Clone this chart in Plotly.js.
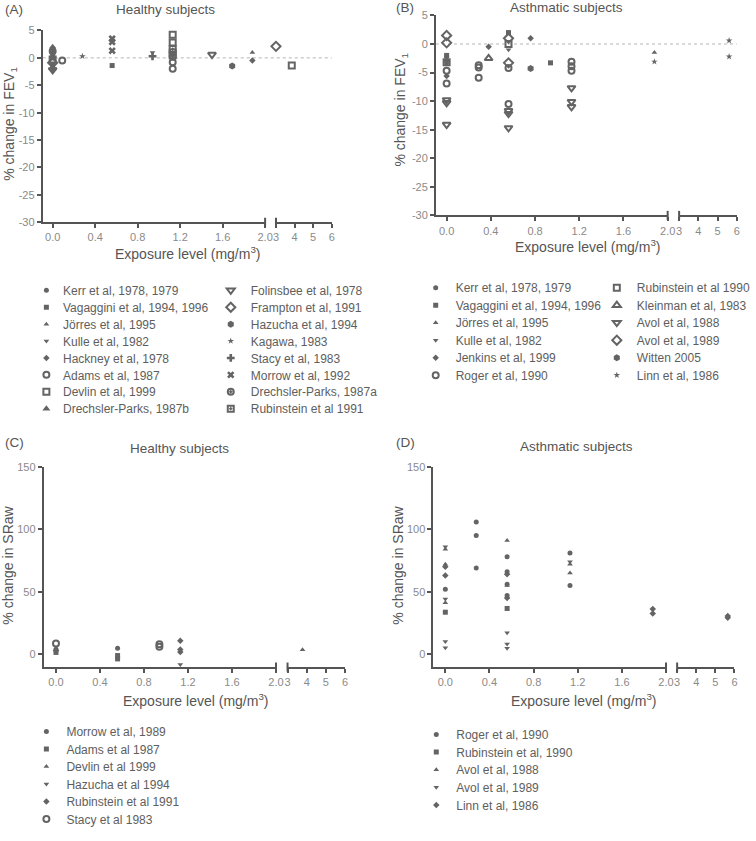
<!DOCTYPE html>
<html><head><meta charset="utf-8">
<script src="https://cdn.plot.ly/plotly-3.0.1.min.js"></script>
<style>html,body{margin:0;padding:0;background:#fff}#chart{width:756px;height:841px}</style>
</head><body><div id="chart"></div>
<script>
// ---------------- DATA ----------------
// Panel A: healthy subjects, % change in FEV1
const A_names = ["Kerr et al, 1978, 1979", "Vagaggini et al, 1994, 1996", "Jörres et al, 1995", "Kulle et al, 1982",
  "Hackney et al, 1978", "Adams et al, 1987", "Devlin et al, 1999", "Drechsler-Parks, 1987b",
  "Folinsbee et al, 1978", "Frampton et al, 1991", "Hazucha et al, 1994", "Kagawa, 1983",
  "Stacy et al, 1983", "Morrow et al, 1992", "Drechsler-Parks, 1987a", "Rubinstein et al 1991"];
const A_x = [[0, 0], [0, 0, 0.56], [0, 1.88], [0, 0.94], [0, 1.88], [0.09, 1.13, 1.13], [0, 1.13, 1.13, 3.85], [0],
  [0, 1.5], [0, 3.0], [0, 1.69], [0.28], [0, 0.94], [0.56, 0.56, 0.56], [0, 1.13], [1.13, 1.13, 1.13]];
const A_y = [[1.5, 0.6], [0.0, -1.2, -1.4], [2.1, 1.0], [-2.6, 1.0], [0.9, -0.5], [-0.5, -0.8, -2.0], [-0.3, 4.2, 2.8, -1.4], [-1.8],
  [-2.2, 0.6], [-0.9, 2.1], [1.6, -1.5], [0.3], [-2.0, 0.3], [3.5, 2.9, 1.3], [1.2, 0.2], [1.6, 1.0, 0.5]];

// Panel B: asthmatic subjects, % change in FEV1
const B_names = ["Kerr et al, 1978, 1979", "Vagaggini et al, 1994, 1996", "Jörres et al, 1995", "Kulle et al, 1982",
  "Jenkins et al, 1999", "Roger et al, 1990", "Rubinstein et al 1990", "Kleinman et al, 1983",
  "Avol et al, 1988", "Avol et al, 1989", "Witten 2005", "Linn et al, 1986"];
const B_x = [[0, 0], [0, 0.56, 0.94], [0, 1.88], [0, 0.56], [0, 0.38, 0.76],
  [0, 0, 0.29, 0.29, 0.29, 0.56, 0.56, 1.13, 1.13, 1.13], [0, 0.56], [0.38],
  [0, 0, 0, 0.56, 0.56, 0.56, 1.13, 1.13, 1.13], [0, 0, 0.56, 0.56], [0.76], [1.88, 5.6, 5.6]];
const B_y = [[-2.2, -3.0], [-2.0, 2.0, -3.3], [-2.8, -1.5], [-3.5, -1.0], [-5.6, -0.5, 1.0],
  [-4.7, -6.9, -3.7, -4.1, -5.9, -4.2, -10.5, -3.1, -3.9, -4.7], [-3.2, 0.0], [-2.5],
  [-9.8, -10.3, -14.1, -11.7, -12.2, -14.7, -7.7, -10.1, -11.0], [1.5, 0.2, 1.0, -3.3], [-4.3], [-3.1, 0.6, -2.2]];

// Panel C: healthy subjects, % change in SRaw
const C_names = ["Morrow et al, 1989", "Adams et al 1987", "Devlin et al 1999", "Hazucha et al 1994",
  "Rubinstein et al 1991", "Stacy et al 1983"];
const C_x = [[0, 0.56], [0, 0.56, 0.56], [3.78], [1.13], [0, 1.13, 1.13, 1.13], [0, 0.94, 0.94]];
const C_y = [[3.8, 4.5], [1.2, -1.3, -4.0], [3.4], [-8.5], [2.5, 10.5, 3.5, 1.5], [8.4, 7.8, 5.8]];

// Panel D: asthmatic subjects, % change in SRaw
const D_names = ["Roger et al, 1990", "Rubinstein et al, 1990", "Avol et al, 1988", "Avol et al, 1989", "Linn et al, 1986"];
const D_x = [[0, 0.28, 0.28, 0.28, 0.56, 0.56, 0.56, 0.56, 1.13, 1.13], [0, 0.56],
  [0, 0, 0, 0.56, 0.56, 1.13, 1.13], [0, 0, 0, 0, 0.56, 0.56, 0.56, 1.13],
  [0, 0, 0.56, 0.56, 1.88, 1.88, 5.65, 5.65]];
const D_y = [[52, 106, 95, 69, 78, 66, 56, 47, 81, 55], [33.5, 36.5],
  [84, 72, 41, 91, 55, 72, 65], [86, 44, 10, 5, 17, 8, 4.5, 74],
  [70, 63, 64, 45, 36, 32.5, 30.5, 29]];

// Tick labels
const X1_vals = [0, 0.4, 0.8, 1.2, 1.6, 2.0];
const X1_text = ["0.0", "0.4", "0.8", "1.2", "1.6", "2.0"];
const X2_vals = [3, 4, 5, 6];
const X2_text = ["3", "4", "5", "6"];
const YF_vals = [-30, -25, -20, -15, -10, -5, 0, 5];
const YF_text = ["-30", "-25", "-20", "-15", "-10", "-5", "0", "5"];
const YS_vals = [0, 50, 100, 150];
const YS_text = ["0", "50", "100", "150"];

// ---------------- STYLES ----------------
const GREY = '#646464';
const F = '"Liberation Sans", Arial, Helvetica, sans-serif';
function mk(symbol, size, lw) { return {symbol: symbol, size: size, color: GREY, line: {width: lw || 0, color: GREY}}; }
const A_sty = [mk('circle', 5), mk('square', 5), mk('triangle-up', 5), mk('triangle-down', 5), mk('diamond', 5),
  mk('circle-open', 6, 2), mk('square-open', 6, 2), mk('triangle-up', 7),
  mk('triangle-down-open', 7, 2), mk('diamond-open', 7, 2), mk('hexagon', 7), mk('star', 5),
  mk('cross', 6.5), mk('x', 6.5), mk('circle-open-dot', 6, 2), mk('square-open-dot', 6, 2)];
const B_sty = [mk('circle', 5), mk('square', 5), mk('triangle-up', 5), mk('triangle-down', 5), mk('diamond', 5),
  mk('circle-open', 6, 2), mk('square-open', 6, 2), mk('triangle-up-open', 7, 2),
  mk('triangle-down-open', 7, 2), mk('diamond-open', 7, 2), mk('hexagon', 7), mk('star', 5)];
const C_sty = [mk('circle', 5), mk('square', 5), mk('triangle-up', 5), mk('triangle-down', 5), mk('diamond', 5), mk('circle-open', 6, 2)];
const D_sty = [mk('circle', 5), mk('square', 5), mk('triangle-up', 5), mk('triangle-down', 5), mk('diamond', 5)];

// ---------------- LAYOUT GEOMETRY (pixels) ----------------
const W = 756, H = 841;
const px = v => v / W, py = v => 1 - v / H;
const geo = {
  A: {x1: [43.3, 268.3], x2: [279.3, 335.7], y: [31, 226], r1: [-0.093, 2.0]},
  B: {x1: [441.3, 675.7], x2: [687.3, 745.7], y: [15.7, 219], r1: [-0.0957, 2.0]},
  C: {x1: [44.3, 279.3], x2: [291, 349.3], y: [475, 678.3], r1: [-0.111, 2.0]},
  D: {x1: [438.7, 674], x2: [685.3, 743.3], y: [475, 678.3], r1: [-0.1075, 2.0]}
};

const traces = [];
function addPanel(names, xs, ys, sty, ax1, ax2, yax, legA, legB, split) {
  names.forEach(function (name, i) {
    const lo = {x: [], y: []}, hi = {x: [], y: []};
    xs[i].forEach(function (xv, j) { const t = xv <= 2 ? lo : hi; t.x.push(xv); t.y.push(ys[i][j]); });
    const leg = i < split ? legA : legB;
    const loHas = lo.x.length > 0;
    traces.push({type: 'scatter', mode: 'markers', name: name, x: lo.x, y: lo.y, xaxis: ax1, yaxis: yax,
      marker: sty[i], legend: leg, showlegend: loHas, cliponaxis: false, hoverinfo: 'skip'});
    traces.push({type: 'scatter', mode: 'markers', name: name, x: hi.x, y: hi.y, xaxis: ax2, yaxis: yax,
      marker: sty[i], legend: leg, showlegend: !loHas, cliponaxis: false, hoverinfo: 'skip'});
  });
}
addPanel(A_names, A_x, A_y, A_sty, 'x', 'x2', 'y', 'legend', 'legend2', 8);
addPanel(B_names, B_x, B_y, B_sty, 'x3', 'x4', 'y2', 'legend3', 'legend4', 6);
addPanel(C_names, C_x, C_y, C_sty, 'x5', 'x6', 'y3', 'legend5', 'legend5', 99);
addPanel(D_names, D_x, D_y, D_sty, 'x7', 'x8', 'y4', 'legend6', 'legend6', 99);

const base = {showline: true, linecolor: '#555', linewidth: 2, ticks: 'outside', ticklen: 4, tickwidth: 2,
  tickcolor: '#555', showgrid: false, zeroline: false, fixedrange: true,
  tickfont: {size: 11, color: '#8a8a8a', family: F}, tickmode: 'array'};
function xa1(g, anchor) { return Object.assign({}, base, {domain: [px(g.x1[0]), px(g.x1[1])], range: g.r1, anchor: anchor, tickvals: X1_vals, ticktext: X1_text}); }
function xa2(g, anchor) { return Object.assign({}, base, {domain: [px(g.x2[0]), px(g.x2[1])], range: [3, 6], anchor: anchor, tickvals: X2_vals, ticktext: X2_text}); }
function ya(g, anchor, range, vals, text) { return Object.assign({}, base, {domain: [py(g.y[1]), py(g.y[0])], range: range, anchor: anchor, tickvals: vals, ticktext: text}); }

function legend(xm, ym) {
  return {x: px(xm - 20), y: py(ym - 14.5), xanchor: 'left', yanchor: 'top', bgcolor: 'rgba(0,0,0,0)',
    font: {size: 12, color: '#5e5e5e', family: F}, tracegroupgap: 0, itemclick: false, itemdoubleclick: false};
}

function ann(text, x, y, size, opts) {
  return Object.assign({text: text, x: px(x), y: py(y), xref: 'paper', yref: 'paper', showarrow: false,
    xanchor: 'center', yanchor: 'middle', font: {size: size, color: '#555', family: F}}, opts || {});
}

function breaks(ax1, ax2, yax) {
  const ln = {color: '#555', width: 2};
  return [
    {type: 'line', xref: ax1 + ' domain', x0: 1, x1: 1, yref: yax + ' domain', ysizemode: 'pixel', yanchor: 0, y0: -4.5, y1: 4.5, line: ln},
    {type: 'line', xref: ax2 + ' domain', x0: 0, x1: 0, yref: yax + ' domain', ysizemode: 'pixel', yanchor: 0, y0: -4.5, y1: 4.5, line: ln}
  ];
}
function zeroLine(g, yax) {
  return {type: 'line', xref: 'paper', x0: px(g.x1[0]), x1: px(g.x2[1]), yref: yax, y0: 0, y1: 0,
    line: {color: '#b5b5b5', width: 1, dash: 'dot'}, layer: 'below'};
}

const layout = {
  width: W, height: H, margin: {l: 0, r: 0, t: 0, b: 0}, paper_bgcolor: '#fff', plot_bgcolor: 'rgba(0,0,0,0)',
  font: {family: F, color: '#555'}, hovermode: false, showlegend: true,
  xaxis: xa1(geo.A, 'y'), xaxis2: xa2(geo.A, 'y'), yaxis: ya(geo.A, 'x', [-30, 5], YF_vals, YF_text),
  xaxis3: xa1(geo.B, 'y2'), xaxis4: xa2(geo.B, 'y2'), yaxis2: ya(geo.B, 'x3', [-30, 5], YF_vals, YF_text),
  xaxis5: xa1(geo.C, 'y3'), xaxis6: xa2(geo.C, 'y3'), yaxis3: ya(geo.C, 'x5', [-10.5, 150], YS_vals, YS_text),
  xaxis7: xa1(geo.D, 'y4'), xaxis8: xa2(geo.D, 'y4'), yaxis4: ya(geo.D, 'x7', [-10.5, 150], YS_vals, YS_text),
  legend: legend(46.7, 295), legend2: legend(233.3, 295),
  legend3: legend(440.7, 292.3), legend4: legend(624, 292.3),
  legend5: legend(46.7, 744), legend6: legend(441.3, 746.7),
  shapes: [].concat(breaks('x', 'x2', 'y'), breaks('x3', 'x4', 'y2'), breaks('x5', 'x6', 'y3'), breaks('x7', 'x8', 'y4'),
    [zeroLine(geo.A, 'y'), zeroLine(geo.B, 'y2')]),
  annotations: [
    ann('(A)', 2.7, 9.3, 13.5, {xanchor: 'left'}), ann('Healthy subjects', 167.5, 9.3, 13.5),
    ann('(B)', 398.7, 7.5, 13.5, {xanchor: 'left'}), ann('Asthmatic subjects', 573.8, 7.7, 13.5),
    ann('(C)', 2.7, 450, 13.5, {xanchor: 'left'}), ann('Healthy subjects', 181.3, 455.7, 13.5),
    ann('(D)', 398.7, 450, 13.5, {xanchor: 'left'}), ann('Asthmatic subjects', 583.8, 454.3, 13.5),
    ann('% change in FEV<sub>1</sub>', 10, 126, 14, {textangle: -90}),
    ann('% change in FEV<sub>1</sub>', 406.3, 111, 14, {textangle: -90}),
    ann('% change in SRaw', 8.3, 575, 14, {textangle: -90}),
    ann('% change in SRaw', 403, 575, 14, {textangle: -90}),
    ann('Exposure level (mg/m<sup>3</sup>)', 190, 257.3, 14),
    ann('Exposure level (mg/m<sup>3</sup>)', 594.7, 250, 14),
    ann('Exposure level (mg/m<sup>3</sup>)', 198.3, 711.7, 14),
    ann('Exposure level (mg/m<sup>3</sup>)', 591.3, 711.7, 14)
  ]
};

const rowGap = {legend: 16.9, legend2: 16.9, legend3: 17.5, legend4: 17.5, legend5: 17.5, legend6: 17.6};
Plotly.newPlot('chart', traces, layout, {staticPlot: true, displayModeBar: false}).then(function (gd) {
  // tighten legend rows and the symbol-to-text gap to match the original figure
  gd.querySelectorAll('g.legend, g[class^="legend"]').forEach(function (lg) {
    const cls = (lg.getAttribute('class') || '').split(' ')[0];
    const gap = rowGap[cls] || 17.2;
    const items = lg.querySelectorAll('g.traces');
    let y0 = null;
    items.forEach(function (it, i) {
      const t = it.getAttribute('transform') || '';
      const m = /translate\(\s*([-\d.e]+)[\s,]+([-\d.e]+)\s*\)/.exec(t);
      if (!m) return;
      if (y0 === null) y0 = parseFloat(m[2]);
      it.setAttribute('transform', 'translate(' + m[1] + ',' + (y0 + i * gap) + ')');
      const tx = it.querySelector('text.legendtext');
      if (tx) tx.setAttribute('x', '36.6');
    });
  });
});
</script></body></html>
